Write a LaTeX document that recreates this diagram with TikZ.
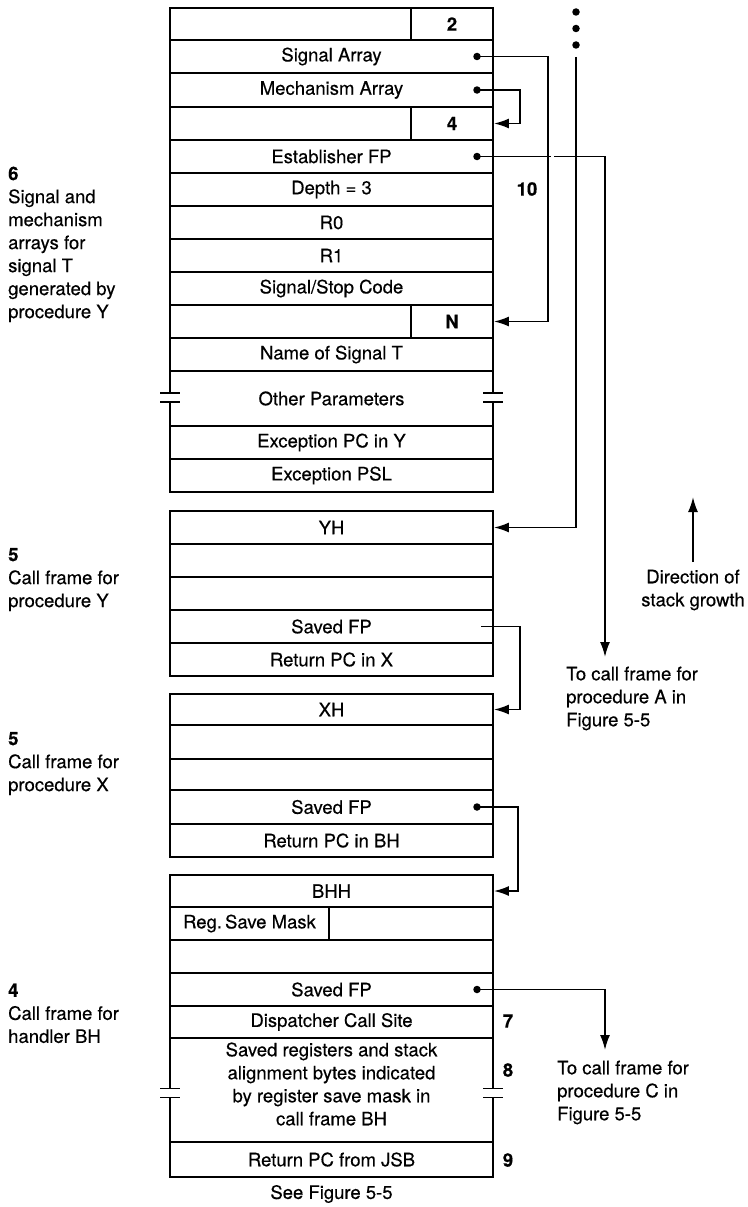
\documentclass[tikz,border=0pt]{standalone}
\usepackage{fontspec}
\setmainfont{TeX Gyre Heros}[FakeBold=0.4]
\usetikzlibrary{arrows.meta}
\newcommand\rowfont{\fontsize{18.5}{23}\selectfont}
\newcommand\rowbox[4]{\node[row,minimum height={(#3-#2)*1pt}] (#1) at (331.5,{(#2+#3)/2}) {#4};}
\newcommand\openbox[4]{\node[row,draw=none,minimum height={(#3-#2)*1pt}] (#1) at (331.5,{(#2+#3)/2}) {#4};}
\newcommand\brk[2]{\draw[ln] (#1-10,#2-4.5) -- (#1+10,#2-4.5) (#1-10,#2+4.5) -- (#1+10,#2+4.5);}
\begin{document}
\begin{tikzpicture}[x=1pt,y=-1pt,
  row/.style={draw,line width=1.8pt,minimum width=323pt,inner sep=0pt,font=\rowfont,align=center},
  ln/.style={line width=1.8pt},
  conn/.style={line width=1.8pt},
  arr/.style={conn,-{Latex[length=15pt,width=10pt]}},
  dot/.style={circle,fill,inner sep=0pt,minimum size=7.5pt},
  lbl/.style={font=\rowfont,inner sep=0pt},
  num/.style={font=\rowfont\bfseries,inner sep=0pt},
  side/.style={font=\rowfont,inner sep=0pt,anchor=north west,align=left}]
\useasboundingbox (0,0) rectangle (747,1207);

% ---- signal frame ----
\rowbox{r1}{8}{40}{}
\draw[ln] (411,8) -- (411,40);
\node[num] (c2) at (452,24) {2};
\rowbox{sa}{40}{73}{Signal Array}
\rowbox{ma}{73}{107}{Mechanism Array}
\rowbox{r4}{107}{140}{}
\draw[ln] (411,107) -- (411,140);
\node[num] (c4) at (452,123.5) {4};
\rowbox{ef}{140}{173}{Establisher FP}
\rowbox{dep}{173}{206}{Depth = 3}
\rowbox{rz}{206}{239}{R0}
\rowbox{ro}{239}{272}{R1}
\rowbox{ssc}{272}{305}{Signal/Stop Code}
\rowbox{nrow}{305}{338}{}
\draw[ln] (411,305) -- (411,338);
\node[num] (cN) at (452,321.5) {N};
\rowbox{nst}{338}{371}{Name of Signal T}
\openbox{op}{371}{426}{Other Parameters}
\draw[ln] (170,371) -- (170,393) (170,402) -- (170,426) (493,371) -- (493,393) (493,402) -- (493,426);
\brk{170}{397.5}\brk{493}{397.5}
\rowbox{epc}{426}{459}{Exception PC in Y}
\rowbox{epsl}{459}{492}{Exception PSL}

% ---- frame Y ----
\rowbox{yh}{511}{544}{YH}
\rowbox{y2}{544}{577}{}
\rowbox{y3}{577}{610}{}
\rowbox{ysf}{610}{643}{Saved FP}
\rowbox{yret}{643}{676}{Return PC in X}

% ---- frame X ----
\rowbox{xh}{694}{725}{XH}
\rowbox{x2}{725}{759}{}
\rowbox{x3}{759}{790}{}
\rowbox{xsf}{790}{824}{Saved FP}
\rowbox{xret}{824}{857}{Return PC in BH}

% ---- frame BH ----
\rowbox{bhh}{875}{907}{BHH}
\rowbox{mask}{907}{940}{}
\draw[ln] (329,907) -- (329,940);
\node[lbl] (mtxt) at (249.5,923.5) {Reg.\,Save Mask};
\rowbox{b3}{940}{973}{}
\rowbox{bsf}{973}{1006}{Saved FP}
\rowbox{disp}{1006}{1038}{Dispatcher Call Site}
\openbox{sreg}{1038}{1142}{}
\node[lbl,align=center] (sregtxt) at (331.5,1084) {Saved registers and stack\\alignment bytes indicated\\by register save mask in\\call frame BH};
\draw[ln] (170,1142) -- (170,1097.5) (170,1088.5) -- (170,1038) (493,1142) -- (493,1097.5) (493,1088.5) -- (493,1038);
\brk{170}{1093}\brk{493}{1093}
\rowbox{jsb}{1142}{1177}{Return PC from JSB}
\node[lbl] (see) at (331.5,1194) {See Figure 5-5};

% ---- right numbers ----
\node[num] (n10) at (527,189) {10};
\node[num] (n7) at (508,1021) {7};
\node[num] (n8) at (508,1070) {8};
\node[num] (n9) at (508,1160) {9};

% ---- left labels ----
\node[side] (l6) at (8,166.5) {\textbf{6}\\Signal and\\mechanism\\arrays for\\signal T\\generated by\\procedure Y};
\node[side] (l5y) at (8,547.8) {\textbf{5}\\Call frame for\\procedure Y};
\node[side] (l5x) at (8,731.8) {\textbf{5}\\Call frame for\\procedure X};
\node[side] (l4) at (8,983.5) {\textbf{4}\\Call frame for\\handler BH};

% ---- connectors ----
\coordinate (k1) at (548,0);
\coordinate (k2) at (520,0);
\coordinate (k3) at (518,0);
\node[dot] (d1) at (477,56.5) {};
\node[dot] (d2) at (477,90) {};
\node[dot] (d3) at (477,156.5) {};
\coordinate (endA) at (605,657);
\draw[arr] (d1.center) -- (d1.center -| k1) |- (nrow.east);
\draw[arr] (d2.center) -- (d2.center -| k2) |- (r4.east);
\draw[arr] (d3.center) -| (endA);
\fill[white] (550.5,153) rectangle (554,160);

\node[dot] (v1) at (576,12) {};
\node[dot] (v2) at (576,28.5) {};
\node[dot] (v3) at (576,45) {};
\coordinate (vtop) at (576,57);
\draw[arr] (vtop) |- (yh.east);

\coordinate (ys) at (481,626.5);
\draw[arr] (ys) -- (ys -| k2) |- (xh.east);

\node[dot] (d6) at (477,807) {};
\draw[arr] (d6.center) -- (d6.center -| k3) |- (bhh.east);

\node[dot] (d7) at (477,989.5) {};
\coordinate (endC) at (605,1050);
\draw[arr] (d7.center) -| (endC);

\coordinate (dirS) at (693,562);
\coordinate (dirE) at (693,497);
\draw[arr] (dirS) -- (dirE);
\node[lbl,align=center] (dirT) at (693,590) {Direction of\\stack growth};

\node[side] (txtA) at (566,666.5) {To call frame for\\procedure A in\\Figure 5-5};
\node[side] (txtC) at (557,1060.5) {To call frame for\\procedure C in\\Figure 5-5};
\end{tikzpicture}
\end{document}
